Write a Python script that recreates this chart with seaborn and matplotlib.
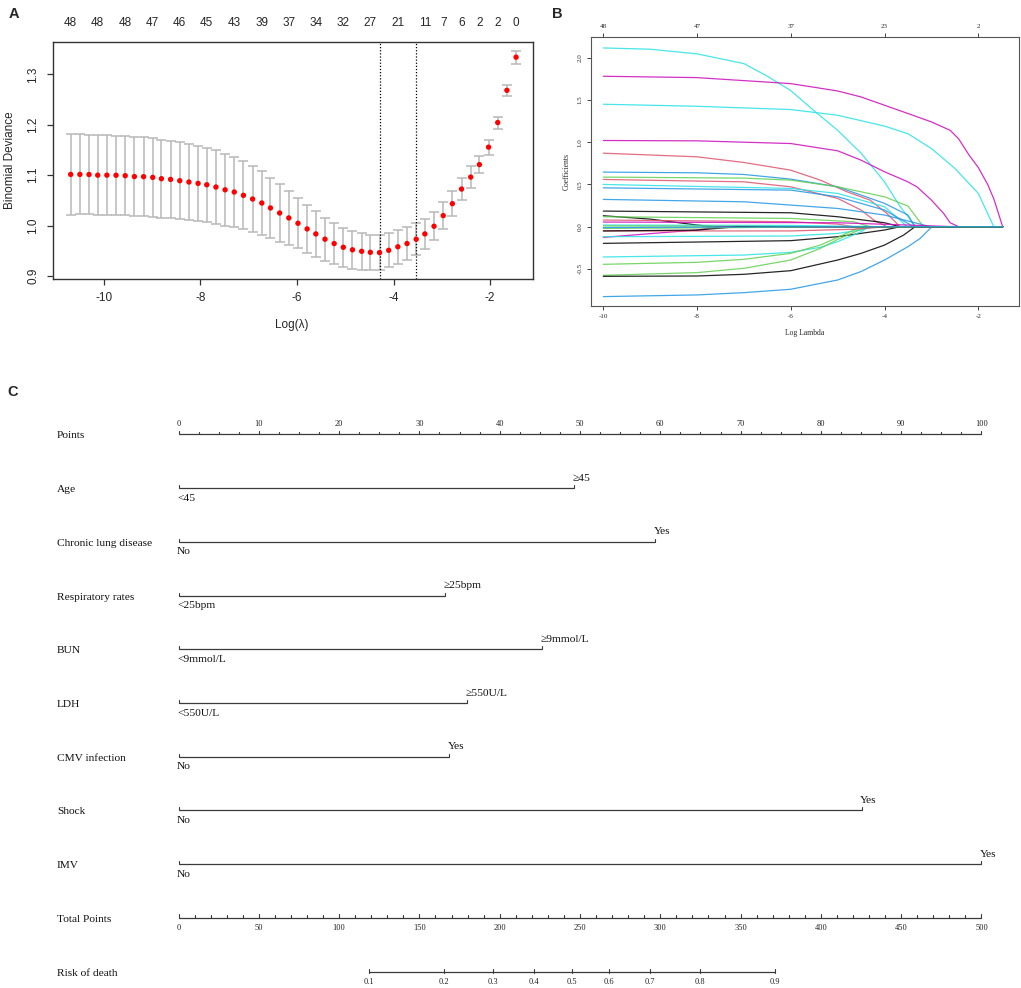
import numpy as np
import pandas as pd
import matplotlib
matplotlib.use("Agg")
import matplotlib.pyplot as plt
import matplotlib.transforms as mtransforms
import seaborn as sns

# ---------------- Panel A data (cv.glmnet) ----------------
log_lambda = [-10.69, -10.50, -10.31, -10.13, -9.94, -9.75, -9.56, -9.37, -9.18, -8.99,
              -8.81, -8.62, -8.43, -8.24, -8.05, -7.87, -7.68, -7.49, -7.30, -7.11,
              -6.92, -6.73, -6.55, -6.36, -6.17, -5.98, -5.79, -5.61, -5.42, -5.23,
              -5.04, -4.85, -4.66, -4.48, -4.29, -4.10, -3.91, -3.72, -3.53, -3.35,
              -3.16, -2.97, -2.78, -2.59, -2.40, -2.22, -2.03, -1.84, -1.65, -1.46]
cv_mean = [1.1015, 1.1015, 1.1013, 1.1000, 1.1000, 1.0998, 1.0990, 1.0972, 1.0970, 1.0956,
           1.0930, 1.0916, 1.0890, 1.0864, 1.0837, 1.0810, 1.0765, 1.0710, 1.0666, 1.0600,
           1.0527, 1.0448, 1.0350, 1.0250, 1.0152, 1.0046, 0.9934, 0.9835, 0.9730, 0.9644,
           0.9570, 0.9520, 0.9490, 0.9470, 0.9464, 0.9510, 0.9580, 0.9644, 0.9730, 0.9835,
           0.9987, 1.0198, 1.0435, 1.0725, 1.0962, 1.1210, 1.1556, 1.2044, 1.2683, 1.3340]
cv_se = [0.0795, 0.0793, 0.0791, 0.0790, 0.0788, 0.0786, 0.0784, 0.0782, 0.0781, 0.0777,
         0.0770, 0.0761, 0.0758, 0.0753, 0.0748, 0.0738, 0.0725, 0.0709, 0.0693, 0.0676,
         0.0652, 0.0626, 0.0597, 0.0567, 0.0532, 0.0498, 0.0472, 0.0448, 0.0425, 0.0402,
         0.0387, 0.0372, 0.0361, 0.0353, 0.0346, 0.0336, 0.0333, 0.0320, 0.0313, 0.0297,
         0.0277, 0.0267, 0.0254, 0.0227, 0.0211, 0.0171, 0.0148, 0.0119, 0.0115, 0.0132]
nzero_idx = [0, 3, 6, 9, 12, 15, 18, 21, 24, 27, 30, 33, 36, 39, 41, 43, 45, 47, 49]
nzero_lab = [48, 48, 48, 47, 46, 45, 43, 39, 37, 34, 32, 27, 21, 11, 7, 6, 2, 2, 0]
idx_min = 34
idx_1se = 38

# ---------------- Panel B data (coefficient paths) ----------------
paths = [
    [(-10, 2.115), (-9, 2.10), (-8, 2.045), (-7, 1.93), (-6.5, 1.78), (-6, 1.61), (-5.5, 1.37), (-5, 1.14), (-4.5, 0.87), (-4, 0.53), (-3.67, 0.24), (-3.5, 0.12), (-3.35, 0)],
    [(-10, 1.78), (-8, 1.764), (-6, 1.693), (-5, 1.606), (-4.5, 1.535), (-4, 1.437), (-3.5, 1.339), (-3, 1.24), (-2.6, 1.14), (-2.42, 1.04), (-2.2, 0.85), (-2, 0.70), (-1.8, 0.50), (-1.67, 0.33), (-1.48, 0)],
    [(-10, 1.449), (-8, 1.425), (-6, 1.386), (-5, 1.319), (-4, 1.19), (-3.5, 1.10), (-3, 0.925), (-2.5, 0.69), (-2, 0.394), (-1.67, 0)],
    [(-10, 1.02), (-8, 1.016), (-6, 0.984), (-5, 0.898), (-4.5, 0.787), (-4, 0.65), (-3.5, 0.53), (-3.31, 0.472), (-3, 0.315), (-2.74, 0.157), (-2.6, 0.047), (-2.42, 0)],
    [(-10, 0.87), (-8, 0.827), (-7, 0.76), (-6, 0.669), (-5.37, 0.551), (-4.8, 0.413), (-4.31, 0.315), (-3.95, 0.157), (-3.67, 0)],
    [(-10, 0.646), (-8, 0.638), (-7, 0.618), (-6, 0.563), (-5, 0.472), (-4, 0.276), (-3.5, 0.138), (-3.35, 0)],
    [(-10, 0.587), (-7, 0.575), (-6, 0.551), (-5, 0.472), (-4, 0.354), (-3.5, 0.244), (-3.17, 0)],
    [(-10, 0.559), (-7, 0.531), (-6, 0.472), (-5, 0.335), (-4.5, 0.197), (-4.23, 0.079), (-3.95, 0)],
    [(-10, 0.50), (-6, 0.453), (-5, 0.394), (-4, 0.236), (-3.67, 0.079), (-3.52, 0)],
    [(-10, 0.46), (-6, 0.433), (-5, 0.354), (-4, 0.197), (-3.38, 0)],
    [(-10, 0.323), (-7, 0.295), (-6, 0.256), (-5, 0.216), (-4, 0.138), (-3.02, 0)],
    [(-10, 0.185), (-6, 0.165), (-5, 0.118), (-4, 0.047), (-3.67, 0)],
    [(-10, 0.13), (-9, 0.09), (-8, 0.02), (-7.65, 0)],
    [(-10, 0.118), (-6, 0.098), (-4.66, 0.059), (-4.31, 0)],
    [(-10, 0.079), (-6, 0.059), (-5, 0.031), (-4.66, 0)],
    [(-10, 0.055), (-5, 0.047), (-3.3, 0.016), (-2.5, 0)],
    [(-10, 0.02), (-6, 0.015), (-4, 0)],
    [(-10, 0.01), (-7, 0.005), (-6, 0)],
    [(-10, -0.126), (-8.93, -0.079), (-8, -0.039), (-7.51, 0)],
    [(-10, -0.118), (-6, -0.11), (-5, -0.079), (-4.5, -0.039), (-4.23, 0)],
    [(-10, -0.197), (-6, -0.165), (-5, -0.118), (-4, -0.039), (-3.67, 0)],
    [(-10, -0.358), (-7, -0.335), (-6, -0.303), (-5.37, -0.244), (-5, -0.177), (-4.5, -0.059), (-4.34, 0)],
    [(-10, -0.445), (-8, -0.421), (-7, -0.386), (-6, -0.315), (-5.37, -0.217), (-5, -0.126), (-4.66, -0.039), (-4.45, 0)],
    [(-10, -0.575), (-8, -0.543), (-7, -0.492), (-6, -0.394), (-5.37, -0.256), (-5, -0.15), (-4.38, 0)],
    [(-10, -0.587), (-8, -0.583), (-7, -0.563), (-6, -0.52), (-5, -0.394), (-4.5, -0.315), (-4, -0.217), (-3.59, -0.098), (-3.35, 0)],
    [(-10, -0.827), (-8, -0.807), (-7, -0.78), (-6, -0.74), (-5, -0.63), (-4.5, -0.53), (-4, -0.394), (-3.5, -0.236), (-3.24, -0.138), (-2.99, 0)],
    [(-10, -0.05), (-6, -0.05), (-4.66, -0.03), (-3.95, 0)],
    [(-10, -0.05), (-8, -0.04), (-7.15, 0)],
    [(-10, -0.02), (-7, -0.01), (-5.5, 0)],
    [(-10, -0.01), (-6, 0)],
]
path_end = -1.48
top_B_ticks = [-10, -8, -6, -4, -2]
top_B_labels = [48, 47, 37, 23, 2]

# ---------------- Panel C data (nomogram) ----------------
var_names = ["Age", "Chronic lung disease", "Respiratory rates", "BUN", "LDH",
             "CMV infection", "Shock", "IMV"]
low_levels = ["<45", "No", "<25bpm", "<9mmol/L", "<550U/L", "No", "No", "No"]
high_levels = ["\u226545", "Yes", "\u226525bpm", "\u22659mmol/L", "\u2265550U/L", "Yes", "Yes", "Yes"]
var_points = [49.3, 59.4, 33.2, 45.3, 35.9, 33.7, 85.1, 100.0]
points_ticks = list(range(0, 101, 10))
total_ticks = list(range(0, 501, 50))
risk_ticks = [0.1, 0.2, 0.3, 0.4, 0.5, 0.6, 0.7, 0.8, 0.9]
total_at_half_risk = 244.8
total_per_logit = 57.5

# ---------------- styling ----------------
sns.set_theme(style="white")
plt.rcParams["axes.unicode_minus"] = False
SANS = ["Liberation Sans", "DejaVu Sans"]
SERIF = ["Liberation Serif", "DejaVu Serif"]
plt.rcParams["font.family"] = SANS

W, H = 1021, 988
fig = plt.figure(figsize=(W / 100, H / 100), dpi=100)


def box(l, t, r, b):
    return [l / W, 1 - b / H, (r - l) / W, (b - t) / H]


# ======== Panel A ========
axA = fig.add_axes(box(52.7, 41.7, 533.3, 279.3))
axA.errorbar(log_lambda, cv_mean, yerr=cv_se, fmt="none", ecolor="#b8b8b8",
             elinewidth=1.1, capsize=3.6, capthick=1.1, zorder=1)
sns.scatterplot(x=log_lambda, y=cv_mean, color="#ff0000", s=15, edgecolor="none",
                ax=axA, zorder=3, legend=False)
for i in (idx_min, idx_1se):
    axA.axvline(log_lambda[i], color="black", ls=(0, (1, 1.5)), lw=0.9, zorder=2)
axA.set_xlim(-11.063, -1.103)
axA.set_ylim(0.8935, 1.3647)
axA.set_xticks([-10, -8, -6, -4, -2])
axA.set_xticklabels(["-10", "-8", "-6", "-4", "-2"])
axA.set_yticks([0.9, 1.0, 1.1, 1.2, 1.3])
axA.set_yticklabels(["0.9", "1.0", "1.1", "1.2", "1.3"], rotation=90, va="center")
axA.tick_params(axis="both", which="major", direction="out", length=4.5, width=0.9,
                color="#333333", labelsize=8.5, pad=5, bottom=True, left=True)
for s in axA.spines.values():
    s.set_color("#333333")
    s.set_linewidth(1.0)
axA.set_xlabel("")
axA.set_ylabel("")
fig.text(10 / W, 1 - 160 / H, "Binomial Deviance", rotation=90, ha="center",
         va="center", fontsize=8.5)
fig.text(292 / W, 1 - 325 / H, "Log(\u03bb)", ha="center", va="center", fontsize=8.5)
axA2 = axA.twiny()
axA2.set_xlim(axA.get_xlim())
axA2.set_xticks([log_lambda[i] for i in nzero_idx])
axA2.set_xticklabels([str(v) for v in nzero_lab])
axA2.tick_params(axis="x", length=0, labelsize=8.5, pad=9, top=True)
for s in axA2.spines.values():
    s.set_visible(False)

# ======== Panel B ========
rows = []
for k, p in enumerate(paths):
    pts = list(p)
    if pts[-1][0] < path_end:
        pts.append((path_end, 0.0))
    for x, y in pts:
        rows.append({"path": f"p{k}", "loglam": x, "coef": y})
dfB = pd.DataFrame(rows)
path_colors = ["#28E2E5", "#CD0BBC", "#28E2E5", "#CD0BBC", "#DF536B", "#2297E6",
               "#61D04F", "#DF536B", "#28E2E5", "#2297E6", "#2297E6", "black",
               "black", "#61D04F", "#DF536B", "#CD0BBC", "#28E2E5", "#61D04F",
               "#CD0BBC", "#28E2E5", "black", "#28E2E5", "#61D04F", "#61D04F",
               "black", "#2297E6", "#DF536B", "black", "#61D04F", "#2297E6"]
pal = {f"p{k}": path_colors[k] for k in range(len(paths))}

axB = fig.add_axes(box(590.7, 37.3, 1019, 306))
sns.lineplot(data=dfB, x="loglam", y="coef", hue="path", palette=pal, estimator=None,
             sort=False, lw=0.9, alpha=0.85, legend=False, ax=axB)
axB.set_xlim(-10.269, -1.132)
axB.set_ylim(-0.938, 2.241)
axB.set_xticks([-10, -8, -6, -4, -2])
axB.set_xticklabels(["-10", "-8", "-6", "-4", "-2"], family=SERIF)
axB.set_yticks([-0.5, 0.0, 0.5, 1.0, 1.5, 2.0])
axB.set_yticklabels(["-0.5", "0.0", "0.5", "1.0", "1.5", "2.0"], rotation=90,
                    va="center", family=SERIF)
axB.tick_params(axis="both", direction="out", length=3, width=0.7, color="#444444",
                labelsize=5, pad=3, bottom=True, left=True)
for s in axB.spines.values():
    s.set_color("#555555")
    s.set_linewidth(0.8)
axB.set_xlabel("")
axB.set_ylabel("")
fig.text(566.7 / W, 1 - 172 / H, "Coefficients", rotation=90, ha="center", va="center",
         fontsize=5.5, family=SERIF)
fig.text(805 / W, 1 - 333 / H, "Log Lambda", ha="center", va="center", fontsize=5.5,
         family=SERIF)
axB2 = axB.twiny()
axB2.set_xlim(axB.get_xlim())
axB2.set_xticks(top_B_ticks)
axB2.set_xticklabels([str(v) for v in top_B_labels], family=SERIF)
axB2.tick_params(axis="x", direction="out", length=3, width=0.7, color="#444444",
                 labelsize=5, pad=3, top=True)
for s in axB2.spines.values():
    s.set_visible(False)

# ======== Panel C ========
row_px0, row_step = 434.3, 53.74
top_px, bot_px = 380, 988
axC = fig.add_axes(box(0, top_px, W, bot_px))
x0_px, px_per_pt = 178.5, 8.03
axC.set_xlim((0 - x0_px) / px_per_pt, (W - x0_px) / px_per_pt)
axC.set_ylim((bot_px - row_px0) / row_step, (top_px - row_px0) / row_step)
axC.axis("off")
u = 1.0 / row_step  # one pixel in row units
LC = "#3a3a3a"
LW = 0.9
lab_tr = mtransforms.blended_transform_factory(fig.transFigure, axC.transData)
FS_LAB = 8.2
FS_TICK = 6.0

def row_label(r, text):
    axC.text(57 / W, r + 1.5 * u, text, transform=lab_tr, ha="left", va="center",
             fontsize=FS_LAB, family=SERIF, color="#111111")

# Points axis (row 0)
axC.plot([0, 100], [0, 0], color=LC, lw=LW, solid_capstyle="butt")
for v in np.arange(0, 100.01, 2.5):
    major = abs(v / 10 - round(v / 10)) < 1e-9
    axC.plot([v, v], [0, -(3.5 if major else 2.5) * u], color=LC, lw=0.8)
for v in points_ticks:
    axC.text(v, -10 * u, str(v), ha="center", va="center", fontsize=FS_TICK,
             family=SERIF, color="#222222")
row_label(0, "Points")

# Variables
for i, (name, lo, hi, pt) in enumerate(zip(var_names, low_levels, high_levels, var_points)):
    r = i + 1
    axC.plot([0, pt], [r, r], color=LC, lw=LW, solid_capstyle="butt")
    axC.plot([0, 0], [r, r - 3 * u], color=LC, lw=0.8)
    axC.plot([pt, pt], [r, r - 3 * u], color=LC, lw=0.8)
    axC.text(-0.2, r + 10 * u, lo, ha="left", va="center", fontsize=FS_LAB,
             family=SERIF, color="#111111")
    axC.text(pt - 0.2, r - 10 * u, hi, ha="left", va="center", fontsize=FS_LAB,
             family=SERIF, color="#111111")
    row_label(r, name)

# Total points (row 9)
r = 9
axC.plot([0, 100], [r, r], color=LC, lw=LW, solid_capstyle="butt")
for v in range(0, 501, 10):
    major = v % 50 == 0
    axC.plot([v / 5, v / 5], [r, r - (3.5 if major else 2.5) * u], color=LC, lw=0.8)
for v in total_ticks:
    axC.text(v / 5, r + 10.5 * u, str(v), ha="center", va="center", fontsize=FS_TICK,
             family=SERIF, color="#222222")
row_label(r, "Total Points")

# Risk of death (row 10)
r = 10
risk_x = [(total_at_half_risk + total_per_logit * np.log(p / (1 - p))) / 5 for p in risk_ticks]
axC.plot([risk_x[0], risk_x[-1]], [r, r], color=LC, lw=LW, solid_capstyle="butt")
for x, p in zip(risk_x, risk_ticks):
    axC.plot([x, x], [r - 3 * u, r + 1 * u], color=LC, lw=0.8)
    axC.text(x, r + 10.5 * u, f"{p:.1f}", ha="center", va="center", fontsize=FS_TICK,
             family=SERIF, color="#222222")
row_label(r, "Risk of death")

# Panel letters
fig.text(14 / W, 1 - 14 / H, "A", ha="center", va="center", fontsize=10.5,
         fontweight="bold", family=SANS)
fig.text(557 / W, 1 - 14 / H, "B", ha="center", va="center", fontsize=10.5,
         fontweight="bold", family=SANS)
fig.text(13 / W, 1 - 392 / H, "C", ha="center", va="center", fontsize=10.5,
         fontweight="bold", family=SANS)

fig.savefig("out.png", dpi=100)
